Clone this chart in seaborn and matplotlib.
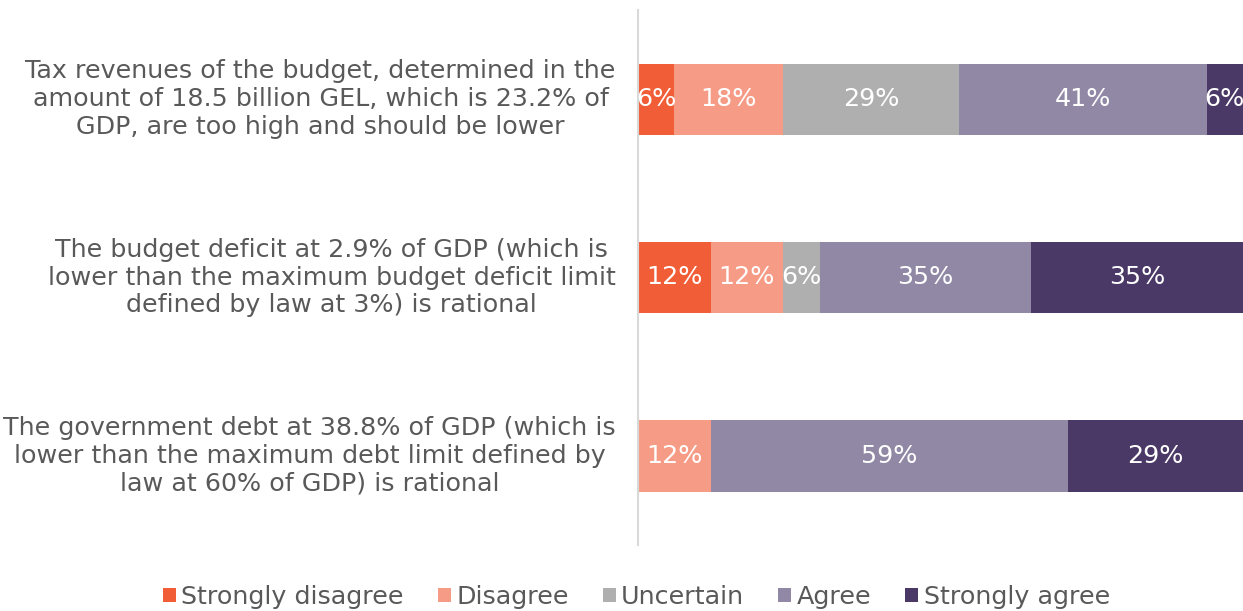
import pandas as pd
import matplotlib
matplotlib.use("Agg")
import matplotlib.pyplot as plt
from matplotlib.patches import Patch
import seaborn as sns
import numpy as np

questions = [
    "Tax revenues of the budget, determined in the\namount of 18.5 billion GEL, which is 23.2% of\nGDP, are too high and should be lower",
    "The budget deficit at 2.9% of GDP (which is\nlower than the maximum budget deficit limit\ndefined by law at 3%) is rational",
    "The government debt at 38.8% of GDP (which is\nlower than the maximum debt limit defined by\nlaw at 60% of GDP) is rational",
]
answers = ["Strongly disagree", "Disagree", "Uncertain", "Agree", "Strongly agree"]
strongly_disagree = [6, 12, 0]
disagree = [18, 12, 12]
uncertain = [29, 6, 0]
agree = [41, 35, 59]
strongly_agree = [6, 35, 29]
colors = ["#F15D36", "#F69C86", "#AFAFAF", "#9188A6", "#4A3966"]

df = pd.DataFrame({"question": questions,
                   "Strongly disagree": strongly_disagree,
                   "Disagree": disagree,
                   "Uncertain": uncertain,
                   "Agree": agree,
                   "Strongly agree": strongly_agree})
cum = df[answers].cumsum(axis=1)

sns.set_style("white")
plt.rcParams['font.family'] = ['DejaVu Sans']
text_col = "#595959"
fs = 18.3

fig = plt.figure(figsize=(12.43, 6.11), dpi=100)
ax = fig.add_axes([638 / 1243, 1 - 545 / 611, 1 - 638 / 1243, (545 - 10) / 611])

# stacked bars: draw cumulative totals from the last answer to the first
for ans, col in reversed(list(zip(answers, colors))):
    sns.barplot(x=cum[ans], y=df["question"], color=col, width=0.4,
                saturation=1, ax=ax, orient="h", linewidth=0, edgecolor="none")

for i in range(len(df)):
    for ans in answers:
        v = df.loc[i, ans]
        if v > 0:
            ax.text(cum.loc[i, ans] - v / 2, i, f"{v}%", ha="center", va="center",
                    color="white", fontsize=fs)

ax.set_xlim(0, 100)
ax.set_ylim(2.5, -0.5)
ax.set_xlabel("")
ax.set_ylabel("")
ax.set_xticks([])
sns.despine(ax=ax, top=True, right=True, bottom=True, left=False)
ax.spines["left"].set_color("#D9D9D9")
ax.spines["left"].set_linewidth(1.5)
ax.tick_params(axis="y", length=0, pad=16, labelsize=fs, labelcolor=text_col)
for lab in ax.get_yticklabels():
    lab.set_multialignment("center")
    lab.set_verticalalignment("center")

handles = [Patch(facecolor=c, edgecolor="none", label=a) for a, c in zip(answers, colors)]
fig.legend(handles=handles, loc="center", bbox_to_anchor=(0.512, 0.023), ncol=5,
           frameon=False, fontsize=fs, labelcolor=text_col, handlelength=0.52,
           handleheight=0.52, handletextpad=0.2, columnspacing=1.34)

fig.savefig("out.png", dpi=100)
